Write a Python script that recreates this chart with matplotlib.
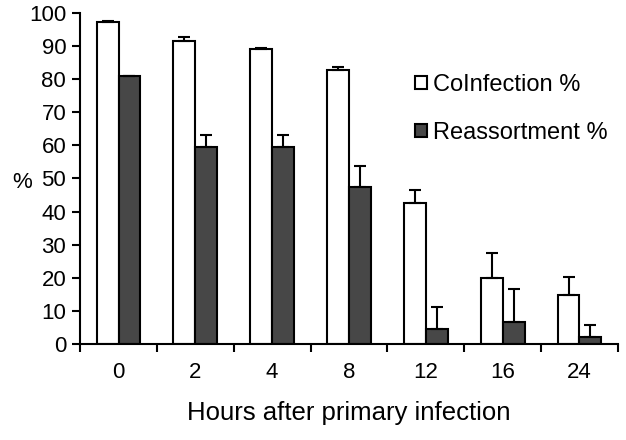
import matplotlib.pyplot as plt
import numpy as np

# data
hours = ['0', '2', '4', '8', '12', '16', '24']
coinfection = [97.3, 91.4, 89.1, 82.7, 42.5, 20.0, 14.8]
coinfection_err = [0.2, 1.4, 0.2, 0.8, 4.0, 7.5, 5.3]
reassortment = [80.9, 59.6, 59.6, 47.3, 4.5, 6.7, 2.0]
reassortment_err = [0.0, 3.4, 3.4, 6.5, 6.8, 9.8, 3.7]

plt.rcParams['font.family'] = ['Liberation Sans', 'DejaVu Sans']

fig = plt.figure(figsize=(6.26, 4.4), dpi=100)
ax = fig.add_axes([0.128, 0.218, 0.859, 0.753])

x = np.arange(len(hours))
w = 0.285
err_kw = dict(ecolor='black', elinewidth=1.5, capsize=4.5, capthick=1.5)

ax.bar(x - w / 2, coinfection, w, color='white', edgecolor='black', linewidth=1.5,
       yerr=[np.zeros(len(hours)), coinfection_err], error_kw=err_kw,
       label='CoInfection %')
ax.bar(x + w / 2, reassortment, w, color='#474747', edgecolor='black', linewidth=1.5,
       yerr=[np.zeros(len(hours)), reassortment_err], error_kw=err_kw,
       label='Reassortment %')

ax.set_xlim(-0.5, len(hours) - 0.5)
ax.set_ylim(0, 100)
ax.set_yticks(range(0, 101, 10))
ax.tick_params(axis='y', labelsize=16, length=6, width=1.5, direction='out', pad=4)

# category labels centred, ticks between categories
ax.set_xticks(np.arange(len(hours) + 1) - 0.5)
ax.set_xticklabels([])
ax.set_xticks(x, minor=True)
ax.set_xticklabels(hours, minor=True)
ax.tick_params(axis='x', which='major', length=6, width=1.5, direction='out')
ax.tick_params(axis='x', which='minor', length=0, labelsize=16, pad=13)

for s in ['top', 'right']:
    ax.spines[s].set_visible(False)
ax.spines['left'].set_linewidth(1.5)
ax.spines['bottom'].set_linewidth(1.5)

ax.set_xlabel('Hours after primary infection', fontsize=18.5, labelpad=13)
fig.text(22 / 626, 1 - 182 / 440, '%', fontsize=16, ha='center', va='center')

ax.legend(loc='upper left', bbox_to_anchor=(0.623, 0.815), frameon=False,
          fontsize=17, handlelength=0.5, handleheight=0.5, handletextpad=0.25,
          labelspacing=1.1, borderaxespad=0, borderpad=0)

fig.savefig('out.png', dpi=100)
